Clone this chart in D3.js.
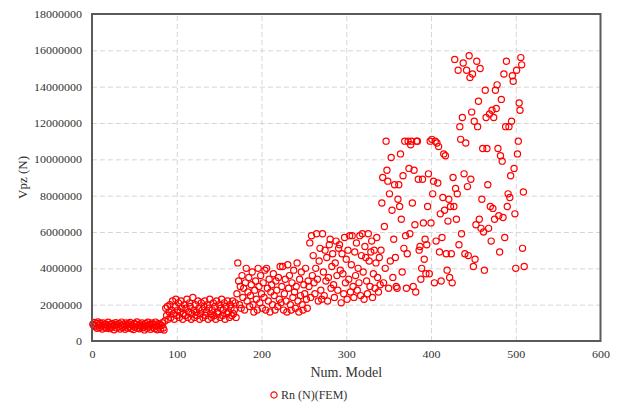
<!DOCTYPE html>
<html>
<head>
<meta charset="utf-8">
<script src="https://cdn.jsdelivr.net/npm/d3@7"></script>
<style>
  html, body { margin: 0; padding: 0; background: #fff; }
  svg { display: block; }
  text { font-family: "Liberation Serif", "Times New Roman", serif; fill: #333; }
</style>
</head>
<body>
<svg id="chart" width="617" height="403"></svg>
<script>
// Shear resistance Vpz (in MN) per numerical model, in model-number order.
const vpzModels001to085 = [
  0.92,0.85,1.02,0.78,0.95,0.70,1.05,0.88,0.74,0.98,
  0.82,0.66,1.00,0.90,0.76,0.94,0.70,0.86,1.03,0.80,
  0.68,0.92,0.75,0.97,0.84,0.62,0.88,1.01,0.72,0.90,
  0.79,0.96,0.66,0.85,1.04,0.74,0.93,0.81,0.64,0.99,
  0.87,0.71,0.95,0.78,1.02,0.69,0.89,0.83,0.63,0.97,
  0.76,0.91,1.05,0.72,0.86,0.67,0.94,0.80,1.00,0.73,
  0.88,0.61,0.96,0.84,0.70,1.03,0.79,0.92,0.65,0.87,
  0.99,0.75,0.90,0.68,1.04,0.82,0.62,0.95,0.77,0.93,
  0.64,0.86,1.01,0.72,0.60
];
const vpzModels086to170 = [
  1.1,1.8,1.4,1.9,1.2,1.6,2.0,1.3,1.7,2.2,
  1.5,1.2,1.9,2.3,1.4,1.7,2.1,1.3,1.6,2.2,
  1.8,1.2,1.5,2.0,1.4,1.8,2.3,1.3,1.6,2.1,
  1.9,1.2,1.5,2.4,1.7,1.3,2.0,1.6,1.4,2.2,
  1.8,1.2,1.5,2.1,1.7,1.3,1.9,2.2,1.4,1.6,
  2.0,1.2,1.8,2.3,1.5,1.3,1.7,2.1,1.4,1.9,
  1.2,2.2,1.6,1.5,2.0,1.3,1.8,2.3,1.4,1.7,
  2.1,1.2,1.9,1.5,2.2,1.6,1.3,2.0,1.8,1.4,
  2.2,1.5,1.7,2.1,1.3
];
const vpzModels171to255 = [
  2.6,4.3,3.3,2.0,3.0,1.8,3.6,2.4,2.9,1.7,
  3.2,4.0,2.2,2.7,3.5,1.9,2.5,3.1,3.8,2.0,
  1.6,2.8,3.3,2.3,1.7,4.0,3.0,2.1,3.6,2.6,
  1.8,3.2,2.4,3.9,1.7,4.0,2.9,2.2,3.4,1.6,
  2.7,3.1,2.0,3.7,2.5,1.7,3.3,2.8,1.9,3.5,
  2.3,4.1,2.1,3.0,4.1,1.7,2.6,3.4,2.2,1.6,
  4.2,2.9,3.6,2.0,1.7,3.2,2.4,3.9,2.7,1.8,
  3.0,4.3,2.2,1.6,3.4,2.5,3.8,2.0,1.7,3.1,
  2.6,4.0,2.3,1.8,3.3
];
const vpzModels256to340 = [
  3.0,5.4,2.4,5.8,3.6,4.7,3.2,2.6,4.0,5.9,
  3.4,2.2,4.4,5.1,2.8,2.3,5.9,3.8,2.5,5.0,
  3.3,4.6,2.2,3.5,5.3,5.6,2.9,4.1,4.8,3.1,
  2.4,4.3,5.5,3.6,2.8,5.1,5.3,3.9,2.1,4.8,
  3.7,2.6,5.7,3.2,4.5,2.3,5.0,3.4,5.8,2.7,
  4.2,5.8,3.0,2.4,4.9,3.6,5.4,2.8,4.0,3.2,
  5.8,2.5,4.7,5.9,3.8,2.3,5.2,4.6,3.3,2.6,
  5.9,4.4,3.0,4.9,5.5,2.4,3.7,5.0,2.9,4.3,
  5.7,3.5,2.7,4.6,3.1
];
const vpzModels341to425 = [
  5.0,7.6,9.0,3.2,6.3,4.0,11.0,9.4,8.8,2.9,
  8.1,4.4,10.1,7.2,3.5,5.6,8.6,4.6,3.0,2.9,
  7.8,8.6,7.4,10.3,6.7,3.8,9.1,5.1,11.0,5.8,
  2.9,4.8,11.0,9.5,5.9,10.8,11.0,7.6,3.0,9.4,
  6.4,2.7,11.0,11.0,8.9,5.0,5.2,3.4,4.0,8.9,
  6.5,4.5,5.6,3.7,5.3,7.4,9.2,3.7,11.0,6.5,
  11.1,8.1,8.8,3.2,11.0,5.5,10.9,8.7,10.7,4.9,
  7.0,3.3,5.7,7.9,10.3,7.2,10.2,4.8,3.9,6.6,
  7.8,3.5,7.4,4.8,3.2
];
const vpzModels426to510 = [
  9.0,7.4,15.5,8.4,6.7,8.1,14.9,5.3,11.8,11.1,
  5.9,12.3,15.3,9.2,4.8,10.9,14.9,8.5,4.7,15.7,
  14.5,8.9,12.6,14.7,4.1,12.1,4.5,6.4,15.4,11.8,
  13.2,6.7,15.0,6.2,7.8,10.6,6.0,3.9,13.8,12.3,
  10.6,8.6,6.2,12.5,7.4,5.5,12.7,7.3,12.3,6.7,
  13.8,12.8,14.1,10.6,6.9,4.9,10.2,13.3,9.9,6.8,
  14.7,5.7,11.8,15.4,7.4,8.1,11.8,7.9,9.1,12.1,
  14.6,14.3,9.5,7.0,4.0,14.9,10.3,11.0,13.1,12.7,
  15.6,15.2,5.1,8.2,4.1
];

const xTicks = [0, 100, 200, 300, 400, 500, 600];
const yTicks = [0, 2000000, 4000000, 6000000, 8000000, 10000000, 12000000, 14000000, 16000000, 18000000];
const seriesName = "Rn (N)(FEM)";
const xTitle = "Num. Model";
const yTitle = "Vpz (N)";

// Combine the groups into one series: model number -> Vpz in N
const vpzAll = [].concat(vpzModels001to085, vpzModels086to170, vpzModels171to255,
                         vpzModels256to340, vpzModels341to425, vpzModels426to510);
const points = vpzAll.map((v, i) => ({ model: i + 1, vpz: v * 1e6 }));

const svg = d3.select("#chart");
const plotLeft = 92, plotRight = 600.5, plotTop = 14, plotBottom = 341;

const x = d3.scaleLinear().domain([0, 600]).range([plotLeft, plotRight]);
const y = d3.scaleLinear().domain([0, 18000000]).range([plotBottom, plotTop]);

const red = "#ff0000";
const gridColor = "#d6d6d6";
const markerRadius = 3.1;

// Dashed grid lines
svg.append("g")
  .attr("transform", `translate(0,${plotBottom})`)
  .call(d3.axisBottom(x).tickValues(xTicks.slice(1, -1)).tickSize(-(plotBottom - plotTop)).tickFormat(""))
  .call(g => g.select(".domain").remove())
  .call(g => g.selectAll("line").attr("stroke", gridColor).attr("stroke-dasharray", "5,3"));

svg.append("g")
  .attr("transform", `translate(${plotLeft},0)`)
  .call(d3.axisLeft(y).tickValues(yTicks.slice(1, -1)).tickSize(-(plotRight - plotLeft)).tickFormat(""))
  .call(g => g.select(".domain").remove())
  .call(g => g.selectAll("line").attr("stroke", gridColor).attr("stroke-dasharray", "5,3"));

// Tick labels
const yAxis = svg.append("g")
  .attr("transform", `translate(${plotLeft},0)`)
  .call(d3.axisLeft(y).tickValues(yTicks).tickSize(0).tickPadding(10).tickFormat(d3.format("d")));
yAxis.select(".domain").remove();
yAxis.selectAll("text")
  .attr("font-size", 12)
  .attr("font-family", "Liberation Serif, serif")
  .attr("fill", "#333")
  .attr("dy", "0.32em")
  .attr("transform", "scale(1,0.88)");

const xAxis = svg.append("g")
  .attr("transform", `translate(0,${plotBottom})`)
  .call(d3.axisBottom(x).tickValues(xTicks).tickSize(0).tickPadding(10).tickFormat(d3.format("d")));
xAxis.select(".domain").remove();
xAxis.selectAll("text")
  .attr("font-size", 12)
  .attr("font-family", "Liberation Serif, serif")
  .attr("fill", "#333")
  .attr("y", 11)
  .attr("transform", "scale(1,0.88)");

// Data points: open red circles
svg.append("g")
  .selectAll("circle")
  .data(points)
  .join("circle")
  .attr("cx", d => x(d.model))
  .attr("cy", d => y(d.vpz))
  .attr("r", markerRadius)
  .attr("fill", "none")
  .attr("stroke", red)
  .attr("stroke-width", 1.2);

// Plot frame
svg.append("rect")
  .attr("x", plotLeft).attr("y", plotTop)
  .attr("width", plotRight - plotLeft).attr("height", plotBottom - plotTop)
  .attr("fill", "none")
  .attr("stroke", "#5a5a5a")
  .attr("stroke-width", 2);

// Axis titles
svg.append("text")
  .attr("x", (plotLeft + plotRight) / 2)
  .attr("y", 377)
  .attr("text-anchor", "middle")
  .attr("font-size", 14)
  .attr("fill", "#333")
  .text(xTitle);

svg.append("text")
  .attr("transform", `translate(27,${(plotTop + plotBottom) / 2}) rotate(-90)`)
  .attr("text-anchor", "middle")
  .attr("font-size", 13)
  .attr("fill", "#333")
  .text(yTitle);

// Legend
const legend = svg.append("g").attr("transform", "translate(274,395)");
legend.append("circle")
  .attr("r", markerRadius)
  .attr("fill", "none")
  .attr("stroke", red)
  .attr("stroke-width", 1.2);
legend.append("text")
  .attr("x", 7)
  .attr("y", 4)
  .attr("font-size", 12)
  .attr("fill", "#333")
  .text(seriesName);
</script>
</body>
</html>
